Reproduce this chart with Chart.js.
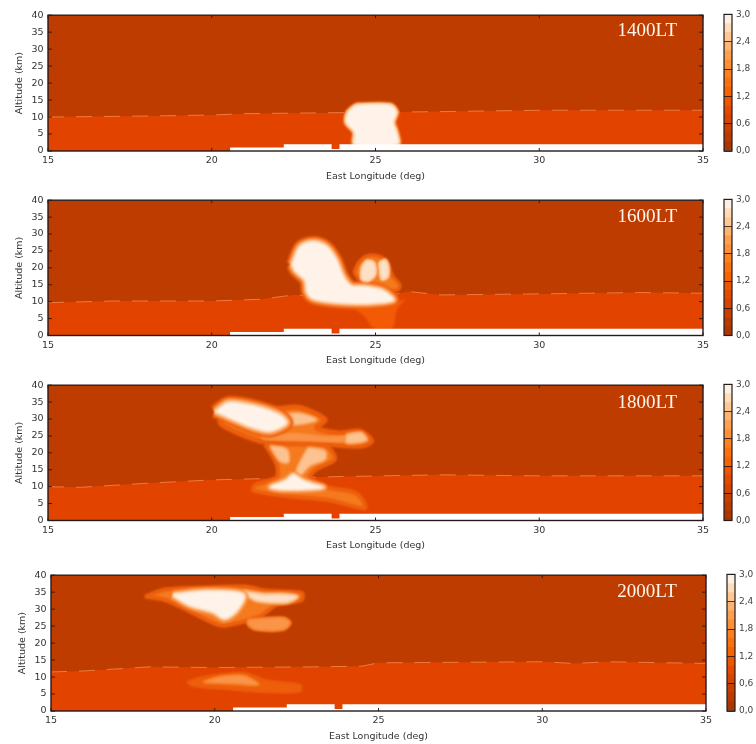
<!DOCTYPE html>
<html><head><meta charset="utf-8">
<script src="https://cdn.jsdelivr.net/npm/chart.js@4"></script>
<style>
html,body{margin:0;padding:0;background:#fff;width:756px;height:744px;overflow:hidden}
canvas{position:absolute;filter:blur(0.55px)}
</style></head><body>
<script>
const lonTicksMin = 15, lonTicksMax = 35, altMin = 0, altMax = 40;
const panelLabels = ['1400LT','1600LT','1800LT','2000LT'];
const colorbarLabels = ['0,0','0,6','1,2','1,8','2,4','3,0'];
const colorbarSteps = ['#aa3600','#b83b00','#c64000','#d64500','#e24a00','#ec5600','#f46400','#f87010','#fa8020','#fb9038','#fca050','#fcb46e','#fdc892','#fedcb8','#fbf0e6'];
const colorbarStepSize = 0.2;
const upperLevel = [[15,40],[35,40]];
const terrain = [[15,0],[20.56,1],[22.2,2],[23.66,0.6],[23.9,2],[35,2]];

const band1400 = [[15,10],[18,10.3],[20,10.6],[21,11],[24,11.3],[27,11.6],[30,12],[35,12]];
const band1600 = [[15,9.7],[17,10.2],[20,10.2],[21.5,10.7],[22.5,12],[23.5,11.5],[25.5,12],[26,13],[27,12],[30,12.3],[33,12.7],[35,12.5]];
const band1800 = [[15,10],[16,9.8],[18,11],[20,12],[22,12.5],[24,13],[27,13.5],[30,13.2],[35,13.2]];
const band2000 = [[15,11.5],[16,11.8],[18,13],[20,12.8],[23,13],[24.5,13.2],[25,14.2],[30,14.5],[31,14],[32,14.5],[35,14]];

const core1400 = [[24.4,13.6],[25.45,13.6],[25.65,11.5],[25.55,8.5],[25.65,5.5],[25.68,2],[24.36,2],[24.35,5.5],[24.1,8.4],[24.15,11.4]];

const main1600 = [[22.44,21],[22.69,26.4],[23.1,27.8],[23.51,26.4],[23.81,22.5],[24.02,17.6],[24.27,14.7],[24.68,14.5],[25.24,13.3],[25.55,10.4],[24.73,9.4],[23.81,9.7],[23.1,10.8],[22.9,12.8],[22.85,16.2],[22.54,19.1]];
const lobeHalo1600 = [[24.34,18.6],[24.48,21.5],[24.73,23.5],[25.09,23.5],[25.36,21.8],[25.52,17.6],[25.75,14.9],[25.65,13.3],[24.73,14.2]];
const lobeA1600 = [[24.58,20.1],[24.73,22],[24.95,21.5],[24.99,18.1],[24.78,16.2],[24.58,16.7]];
const lobeB1600 = [[25.12,21.5],[25.29,22.3],[25.39,20.1],[25.36,17.2],[25.19,16.7]];
const plume1600 = [[24.22,8.9],[25.55,9.4],[25.9,10.8],[25.65,7.5],[25.52,2.3],[24.93,2.3],[24.68,5.5]];

const main1800 = [[20.1,32.2],[20.51,34.9],[21.37,33.7],[22.08,31.2],[22.29,28.8],[21.78,26.4],[21.27,27.4],[20.66,29.8]];
const wisp1800 = [[22.08,33.2],[22.69,33.4],[23.46,29.8],[23.2,27.4],[23.9,25.9],[24.53,26.4],[24.88,23.5],[24.53,22],[23.61,22.5],[22.69,23],[21.47,23.5],[20.25,29.3]];
const streak1800 = [[21.5,25],[22.5,25.6],[23.5,24.6],[24.3,24.7],[24.3,23.5],[23,23.7],[21.6,24.2]];
const shoulder1800 = [[22.2,31.4],[22.7,31.6],[23.2,29.8],[22.8,28.6],[22.4,28.6]];
const column1800 = [[21.63,22.5],[22.8,22.5],[23.51,22],[23.76,18.1],[23.2,15.2],[23,12.8],[23.5,9.9],[24.42,8],[24.68,3.6],[23.61,6],[22.19,7.4],[21.27,8.9],[21.32,10.4],[21.98,12.8],[21.98,16.7]];
const low1800 = [[22.49,13.8],[22.8,11.8],[23.41,9.7],[22.19,9.1],[21.78,9.9],[22.24,11.8]];
const upperA1800 = [[22.95,21.5],[23.46,20.5],[23.46,18.1],[23,16.2],[22.69,13.3],[22.59,14.7],[22.8,19.1]];
const upperB1800 = [[21.78,22],[22.29,21],[22.34,17.2],[22.08,17.6]];
const tip1800 = [[24.12,25.4],[24.58,25.9],[24.73,23.7],[24.12,23]];

const halo2000 = [[17.87,33.7],[18.48,35.8],[19.85,36.4],[20.97,36.6],[21.58,35.4],[22.65,34.8],[22.65,32.7],[21.89,31.3],[21.38,27.9],[20.36,25.2],[20.06,25.5],[18.94,30.8],[18.48,32.7]];
const main2000 = [[18.73,34.2],[19.75,35.1],[20.87,34.2],[20.67,29.8],[20.31,27.4],[19.96,29.3],[19.24,31.3]];
const arm2000 = [[20.87,35.1],[21.48,34.2],[22.09,34.2],[22.5,33.7],[22.19,32.2],[21.28,32.7]];
const lobe2000 = [[21.02,26.9],[22.09,27.4],[22.3,26],[22.09,24],[21.28,24],[21.02,25.5]];
const cloud2000 = [[19.16,8.5],[19.65,10],[20.87,11.2],[21.58,9],[22.6,7.6],[22.6,5.8],[21.69,5.6],[20.26,6.6],[19.34,7.4]];
const cloudCore2000 = [[19.65,8.5],[20.16,10],[20.87,10.3],[21.33,7.8],[20.57,8.1]];

const C = {upper:'#be3c00', band:'#e24400', dash:'#ee7a40', o1:'#ee5f0c', o2:'#f57a1e', o3:'#fa9448', o4:'#fdc291', o5:'#fde0c6', white:'#fff3e9', plume:'#f25a05', terrain:'#ffffff'};
const xy = a => a.map(p => ({x:p[0], y:p[1]}));
const base = {showLine:true, pointRadius:0, pointHitRadius:0};
function poly(points, fill, border, width, tension){
  return {...base, data:xy(points.concat([points[0]])), fill:'shape', backgroundColor:fill, borderColor:border||fill, borderWidth:width||0, borderJoinStyle:'round', tension:tension===undefined?0.3:tension};
}
function area(points, color, extra){
  return {...base, data:xy(points), fill:'origin', backgroundColor:color, borderColor:color, borderWidth:0, ...extra};
}
function blob(points, widths, colors, fill){
  const out = widths.map((w,i) => poly(points, colors[i], colors[i], w));
  out.push(poly(points, fill, fill, 0));
  return out;
}
const halo3 = [C.o1,C.o3,C.o4];
const panels = [
 {left:48, top:13.5, bottom:151, label:panelLabels[0], labelLon:33.3, labelAlt:35.2, band:band1400, layers:[
   ...blob(core1400,[5,3],[C.o2,C.o4],C.white)
 ]},
 {left:48, top:198, bottom:335.5, label:panelLabels[1], labelLon:33.3, labelAlt:35, band:band1600, layers:[
   poly(plume1600,C.plume),
   poly(lobeHalo1600,C.o2,C.o1,3),
   ...blob(main1600,[11,7,3],halo3,C.white),
   ...blob(lobeA1600,[3],[C.o4],C.o5),
   ...blob(lobeB1600,[3],[C.o4],C.o5)
 ]},
 {left:48, top:383, bottom:520.5, label:panelLabels[2], labelLon:33.3, labelAlt:34.8, band:band1800, layers:[
   poly(wisp1800,C.o2,C.o1,5),
   poly(column1800,C.o2,C.o1,4),
   poly(streak1800,C.o3,C.o3,2),
   ...blob(shoulder1800,[3],[C.o3],C.o4),
   ...blob(upperA1800,[3],[C.o3],C.o4),
   ...blob(upperB1800,[3],[C.o3],C.o4),
   ...blob(tip1800,[3],[C.o3],C.o4),
   ...blob(low1800,[7,3],[C.o3,C.o4],C.white),
   ...blob(main1800,[13,8,4],halo3,C.white)
 ]},
 {left:51, top:573, bottom:711, label:panelLabels[3], labelLon:33.2, labelAlt:35, band:band2000, layers:[
   poly(halo2000,C.o2,C.o1,4),
   ...blob(lobe2000,[3],[C.o2],C.o3),
   ...blob(arm2000,[6,3],[C.o3,C.o4],C.o5),
   ...blob(main2000,[9,5,2],[C.o3,C.o4,C.o5],C.white),
   poly(cloud2000,C.o1,C.o1,2),
   ...blob(cloudCore2000,[3],[C.o2],C.o3)
 ]}
];

const softLayers = {
  id:'softLayers',
  afterDatasetDraw(chart, args){
    const n = chart.data.datasets.length;
    if (args.meta.order === n-1) chart.ctx.filter = 'blur(1.3px)';
    if (args.meta.order === 2) chart.ctx.filter = 'none';
  }
};
const panelPlugin = {
  id:'panelFrame',
  afterDatasetsDraw(chart, args, opts){
    const {ctx, chartArea:a, scales:{x,y}} = chart;
    ctx.save();
    ctx.filter = 'none';
    ctx.strokeStyle = '#3a1a0a'; ctx.lineWidth = 1;
    ctx.beginPath();
    x.ticks.forEach(t => { const p = x.getPixelForValue(t.value);
      ctx.moveTo(p,a.top); ctx.lineTo(p,a.top+3); ctx.moveTo(p,a.bottom); ctx.lineTo(p,a.bottom-3); });
    y.ticks.forEach(t => { const p = y.getPixelForValue(t.value);
      ctx.moveTo(a.left,p); ctx.lineTo(a.left+4,p); ctx.moveTo(a.right,p); ctx.lineTo(a.right-4,p); });
    ctx.stroke();
    ctx.strokeStyle = '#241a1c'; ctx.lineWidth = 1.4;
    ctx.strokeRect(a.left,a.top,a.right-a.left,a.bottom-a.top);
    ctx.fillStyle = '#fff6ee'; ctx.font = '19px "Liberation Serif"';
    ctx.textAlign = 'center'; ctx.textBaseline = 'middle';
    ctx.fillText(opts.label, x.getPixelForValue(opts.lon), y.getPixelForValue(opts.alt));
    ctx.restore();
  }
};
const cbPlugin = {
  id:'cbFrame',
  afterDraw(chart){
    const {ctx, chartArea:a} = chart;
    ctx.save(); ctx.strokeStyle = '#241a1c'; ctx.lineWidth = 1.2;
    ctx.strokeRect(a.left,a.top,a.right-a.left,a.bottom-a.top); ctx.restore();
  }
};
const font = {family:'"DejaVu Sans"', size:9.5};
const titleFont = {family:'"DejaVu Sans"', size:9.5};
function addCanvas(l,t,w,h){
  const c = document.createElement('canvas');
  c.width = w; c.height = h; c.style.left = l+'px'; c.style.top = t+'px';
  c.style.width = w+'px'; c.style.height = h+'px';
  document.body.appendChild(c); return c;
}
panels.forEach(p => {
  const cTop = Math.floor(p.top)-8, right = p.left+655, W = right+16;
  const H = Math.ceil(p.bottom)-cTop+34;
  const list = [area(upperLevel,C.upper), area(p.band,C.band,{borderColor:C.dash,borderWidth:1,borderDash:[16,12]}), ...p.layers, area(terrain,C.terrain,{stepped:'before'})];
  list.forEach((d,i) => { d.order = list.length-i; });
  new Chart(addCanvas(0,cTop,W,H),{
    type:'scatter',
    data:{datasets:list},
    options:{
      responsive:false, animation:false, events:[],
      layout:{autoPadding:false, padding:{left:0,right:W-right,top:p.top-cTop,bottom:H-(p.bottom-cTop)-31}},
      plugins:{legend:{display:false},tooltip:{enabled:false},panelFrame:{label:p.label,lon:p.labelLon,alt:p.labelAlt}},
      scales:{
        x:{type:'linear',min:lonTicksMin,max:lonTicksMax,grid:{display:false,drawTicks:false},border:{display:false},
           ticks:{stepSize:5,font,color:'#333',padding:4,maxRotation:0,autoSkip:false},
           title:{display:true,text:'East Longitude (deg)',font:titleFont,color:'#333',padding:0},
           afterFit(s){s.height=31;}},
        y:{type:'linear',min:altMin,max:altMax,grid:{display:false,drawTicks:false},border:{display:false},
           ticks:{stepSize:5,font,color:'#333',padding:4.5},
           title:{display:true,text:'Altitude (km)',font:titleFont,color:'#333',padding:{top:p.left-34,bottom:0}},
           afterFit(s){s.width=p.left;}}
      }
    },
    plugins:[softLayers,panelPlugin]
  });
  const cbW = 756-(right+13);
  new Chart(addCanvas(right+13,cTop,cbW,H),{
    type:'bar',
    data:{labels:[''],datasets:colorbarSteps.map(c => ({data:[colorbarStepSize],backgroundColor:c,barPercentage:1,categoryPercentage:1,borderWidth:0}))},
    options:{
      responsive:false, animation:false, events:[],
      layout:{autoPadding:false,padding:{left:8,right:0,top:p.top-cTop,bottom:H-(p.bottom-cTop)}},
      plugins:{legend:{display:false},tooltip:{enabled:false}},
      scales:{
        x:{stacked:true,display:false,grid:{display:false}},
        y:{stacked:true,position:'right',min:0,max:3,
           grid:{color:'rgba(20,10,10,0.75)',drawTicks:false,z:1},border:{display:false},
           ticks:{stepSize:0.6,font:{family:'"DejaVu Sans"',size:9},color:'#444',padding:4,callback:(v,i) => colorbarLabels[i]},
           afterFit(s){s.width=cbW-16;}}
      }
    },
    plugins:[cbPlugin]
  });
});
</script>
</body></html>
